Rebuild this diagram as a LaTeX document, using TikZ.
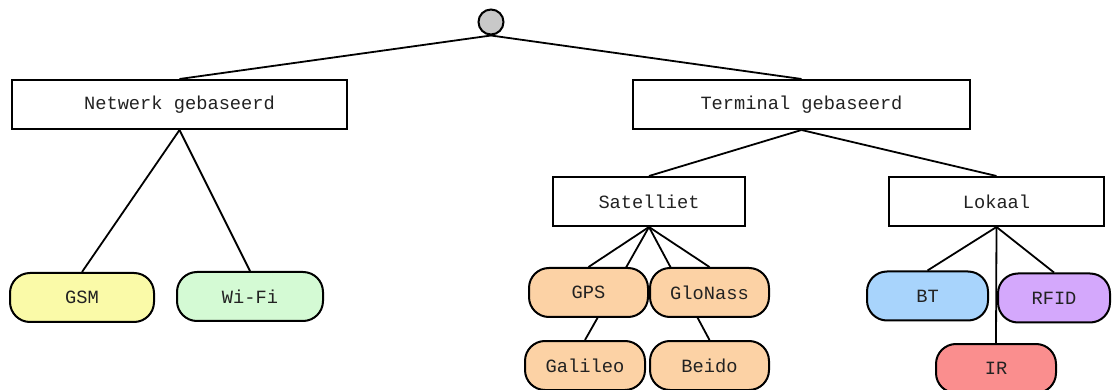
\documentclass[tikz,border=0pt]{standalone}
\usepackage{fontspec}
\newfontfamily\lblfont{Liberation Mono}
\usetikzlibrary{backgrounds}
\definecolor{rootgray}{RGB}{200,200,200}
\definecolor{gsmfill}{RGB}{250,250,168}
\definecolor{wififill}{RGB}{212,250,212}
\definecolor{satfill}{RGB}{252,210,165}
\definecolor{btfill}{RGB}{168,212,252}
\definecolor{rfidfill}{RGB}{212,168,252}
\definecolor{irfill}{RGB}{250,142,142}
\definecolor{txt}{RGB}{34,34,34}
\tikzset{
  base/.style={inner sep=0pt, font=\lblfont\fontsize{18.7}{20}\selectfont, text=txt},
  catbox/.style={base, draw, line width=2pt, rectangle, minimum height=49pt},
  leaf/.style={base, draw, line width=2pt, rectangle, rounded corners=20pt, minimum height=49pt},
  link/.style={line width=1.8pt},
}
\begin{document}
\begin{tikzpicture}[x=1pt, y=-1pt]
\useasboundingbox (0,0) rectangle (1112,390);
\begin{scope}
\clip (0,0) rectangle (1112,390);
% root
\node[draw, circle, fill=rootgray, line width=2pt, minimum size=25pt, inner sep=0pt] (root) at (491,22) {};
% first level
\node[catbox, minimum width=335pt] (netw) at (179.5,104.5) {Netwerk gebaseerd};
\node[catbox, minimum width=337pt] (term) at (801.5,104.5) {Terminal gebaseerd};
% second level
\node[catbox, minimum width=192pt] (sat) at (649,201.5) {Satelliet};
\node[catbox, minimum width=215pt] (lok) at (996.5,201.5) {Lokaal};
% leaves
\node[leaf, fill=gsmfill, minimum width=144pt] (gsm) at (82,297.5) {GSM};
\node[leaf, fill=wififill, minimum width=146pt] (wifi) at (250,296.5) {Wi-Fi};
\node[leaf, fill=satfill, minimum width=119pt] (gps) at (588.5,292.5) {GPS};
\node[leaf, fill=satfill, minimum width=119pt] (glo) at (709.5,292.5) {GloNass};
\node[leaf, fill=satfill, minimum width=120pt] (gal) at (585,365.5) {Galileo};
\node[leaf, fill=satfill, minimum width=119pt] (bei) at (709.5,365.5) {Beido};
\node[leaf, fill=btfill, minimum width=121pt] (bt) at (927.5,296) {BT};
\node[leaf, fill=rfidfill, minimum width=112pt] (rfid) at (1054,298) {RFID};
\node[leaf, fill=irfill, minimum width=120pt] (ir) at (996,368.5) {IR};
% connectors, behind the nodes
\begin{pgfonlayer}{background}
\draw[link] (root.south) -- (netw.north);
\draw[link] (root.south) -- (term.north);
\draw[link] (netw.south) -- (gsm.north);
\draw[link] (netw.south) -- (wifi.north);
\draw[link] (term.south) -- (sat.north);
\draw[link] (term.south) -- (lok.north);
\draw[link] (sat.south) -- (gps.north);
\draw[link] (sat.south) -- (glo.north);
\draw[link] (sat.south) -- (gal.north);
\draw[link] (sat.south) -- (bei.north);
\draw[link] (lok.south) -- (bt.north);
\draw[link] (lok.south) -- (rfid.north);
\draw[link] (lok.south) -- (ir.north);
\end{pgfonlayer}
\end{scope}
\end{tikzpicture}
\end{document}
